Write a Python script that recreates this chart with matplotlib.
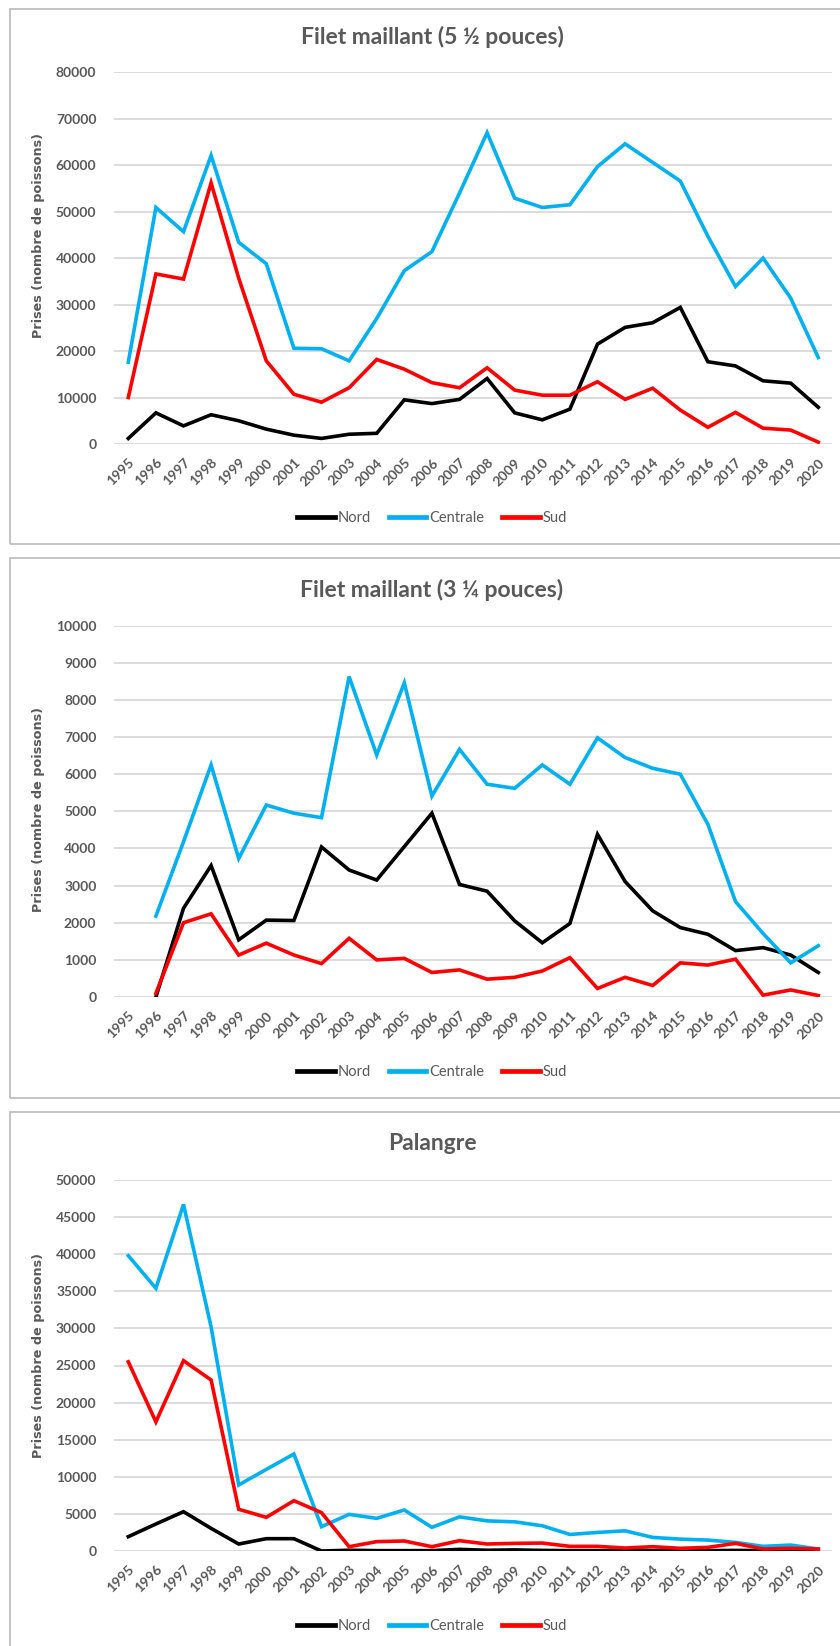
import numpy as np
import matplotlib
matplotlib.use("Agg")
import matplotlib.pyplot as plt
from matplotlib.patches import Rectangle
from matplotlib.lines import Line2D

years = [str(y) for y in range(1995, 2021)]
series_names = ["Nord", "Centrale", "Sud"]
colors = {"Nord": "#000000", "Centrale": "#00B0F0", "Sud": "#FF0000"}
nan = np.nan

# Panel 1: Filet maillant (5 1/2 pouces)
title1 = "Filet maillant (5 ½ pouces)"
nord1 = [1200, 6700, 3900, 6300, 5000, 3200, 1900, 1200, 2100, 2300, 9500, 8700, 9600,
         14100, 6700, 5200, 7500, 21500, 25100, 26100, 29400, 17700, 16800, 13600, 13100, 7900]
centrale1 = [17600, 50900, 45700, 62100, 43400, 38800, 20600, 20500, 17900, 27000, 37300, 41400, 54000,
             67000, 52900, 50900, 51500, 59700, 64600, 60600, 56600, 44700, 33900, 40000, 31400, 18600]
sud1 = [10000, 36600, 35500, 56200, 35700, 17900, 10700, 9000, 12100, 18200, 16100, 13200, 12100,
        16400, 11600, 10500, 10500, 13400, 9600, 12000, 7300, 3600, 6800, 3400, 3000, 400]
yticks1 = [0, 10000, 20000, 30000, 40000, 50000, 60000, 70000, 80000]

# Panel 2: Filet maillant (3 1/4 pouces)
title2 = "Filet maillant (3 ¼ pouces)"
nord2 = [nan, 0, 2390, 3540, 1540, 2070, 2060, 4040, 3420, 3150, 4050, 4950, 3030,
         2850, 2050, 1460, 1980, 4380, 3110, 2320, 1870, 1690, 1250, 1330, 1130, 660]
centrale2 = [nan, 2180, 4180, 6250, 3730, 5170, 4950, 4830, 8630, 6520, 8460, 5410, 6670,
             5730, 5620, 6250, 5730, 6980, 6450, 6160, 6000, 4650, 2570, 1710, 920, 1380]
sud2 = [nan, 100, 2000, 2240, 1130, 1450, 1130, 900, 1580, 1000, 1040, 660, 730,
        480, 530, 700, 1060, 230, 530, 310, 920, 860, 1020, 50, 190, 40]
yticks2 = [0, 1000, 2000, 3000, 4000, 5000, 6000, 7000, 8000, 9000, 10000]

# Panel 3: Palangre
title3 = "Palangre"
nord3 = [1930, 3640, 5300, 3050, 940, 1660, 1660, 0, 100, 50, 50, 50, 220,
         100, 150, 80, 50, 50, 50, 50, 50, 50, 80, 50, 30, 20]
centrale3 = [39800, 35400, 46700, 30200, 8900, 11000, 13070, 3280, 4940, 4400, 5530, 3190, 4600,
             4060, 3930, 3400, 2230, 2500, 2720, 1830, 1600, 1470, 1160, 625, 800, 270]
sud3 = [25500, 17400, 25650, 23050, 5620, 4540, 6780, 5170, 580, 1260, 1350, 580, 1390,
        940, 1030, 1070, 625, 625, 400, 580, 360, 490, 1030, 270, 360, 270]
yticks3 = [0, 5000, 10000, 15000, 20000, 25000, 30000, 35000, 40000, 45000, 50000]

W, H = 840, 1646
fig = plt.figure(figsize=(W / 100, H / 100), dpi=100)

gray_txt = "#595959"
TICKFONT = "Lato"

panels = [
    dict(title=title1, data=[nord1, centrale1, sud1], yticks=yticks1,
         ax_top=72.3, ax_bot=444, title_y=37, ylabel_y=236, legend_y=518,
         box=(9.5, 8.5, 543.8)),
    dict(title=title2, data=[nord2, centrale2, sud2], yticks=yticks2,
         ax_top=625.7, ax_bot=997, title_y=590, ylabel_y=809, legend_y=1072,
         box=(9.5, 557.8, 1097.7)),
    dict(title=title3, data=[nord3, centrale3, sud3], yticks=yticks3,
         ax_top=1180, ax_bot=1551, title_y=1143.5, ylabel_y=1356, legend_y=1626,
         box=(9.5, 1112, 1700)),
]

x_left, x_right = 114.5, 832.1

for p in panels:
    bx, btop, bbot = p["box"]
    rect = Rectangle((bx / W, 1 - bbot / H), (870 - bx) / W, (bbot - btop) / H,
                     transform=fig.transFigure, fill=False, edgecolor="#bfbfbf",
                     linewidth=1.3, zorder=0)
    fig.patches.append(rect)

    ax = fig.add_axes([x_left / W, 1 - p["ax_bot"] / H,
                       (x_right - x_left) / W, (p["ax_bot"] - p["ax_top"]) / H])
    x = np.arange(len(years))
    for name, vals in zip(series_names, p["data"]):
        ax.plot(x, vals, color=colors[name], linewidth=2.6, label=name,
                solid_joinstyle="miter", zorder=3)
    ax.set_xlim(-0.5, len(years) - 0.5)
    ax.set_ylim(p["yticks"][0], p["yticks"][-1])
    ax.set_yticks(p["yticks"])
    ax.set_yticklabels([str(v) for v in p["yticks"]], fontfamily=TICKFONT,
                       fontsize=10, color=gray_txt, fontweight="bold")
    ax.set_xticks(x)
    ax.set_xticklabels(years, rotation=45, ha="right", rotation_mode="anchor",
                       fontfamily=TICKFONT, fontsize=10, color=gray_txt, fontweight="bold")
    ax.tick_params(axis="both", length=0)
    ax.tick_params(axis="y", pad=13)
    ax.tick_params(axis="x", pad=9)
    for s in ax.spines.values():
        s.set_visible(False)
    ax.grid(axis="y", color="#d9d9d9", linewidth=1.3)
    ax.set_axisbelow(True)
    ax.set_facecolor("none")

    fig.text(432 / W, 1 - p["title_y"] / H, p["title"], ha="center", va="center",
             fontfamily="Lato", fontsize=16.5, fontweight="bold", color=gray_txt)
    fig.text(39 / W, 1 - p["ylabel_y"] / H, "Prises (nombre de poissons)",
             rotation=90, ha="center", va="center", fontfamily="DejaVu Sans",
             fontsize=9.2, fontweight="bold", color=gray_txt)

    handles = [Line2D([0], [0], color=colors[n], linewidth=3.4) for n in series_names]
    fig.legend(handles, series_names, loc="center",
               bbox_to_anchor=(432 / W, 1 - p["legend_y"] / H), ncol=3, frameon=False,
               handlelength=2.6, handletextpad=0.2, columnspacing=1.2,
               prop=dict(family="Lato", size=10.5), labelcolor=gray_txt)

fig.savefig("out.png", dpi=100, facecolor="white")
